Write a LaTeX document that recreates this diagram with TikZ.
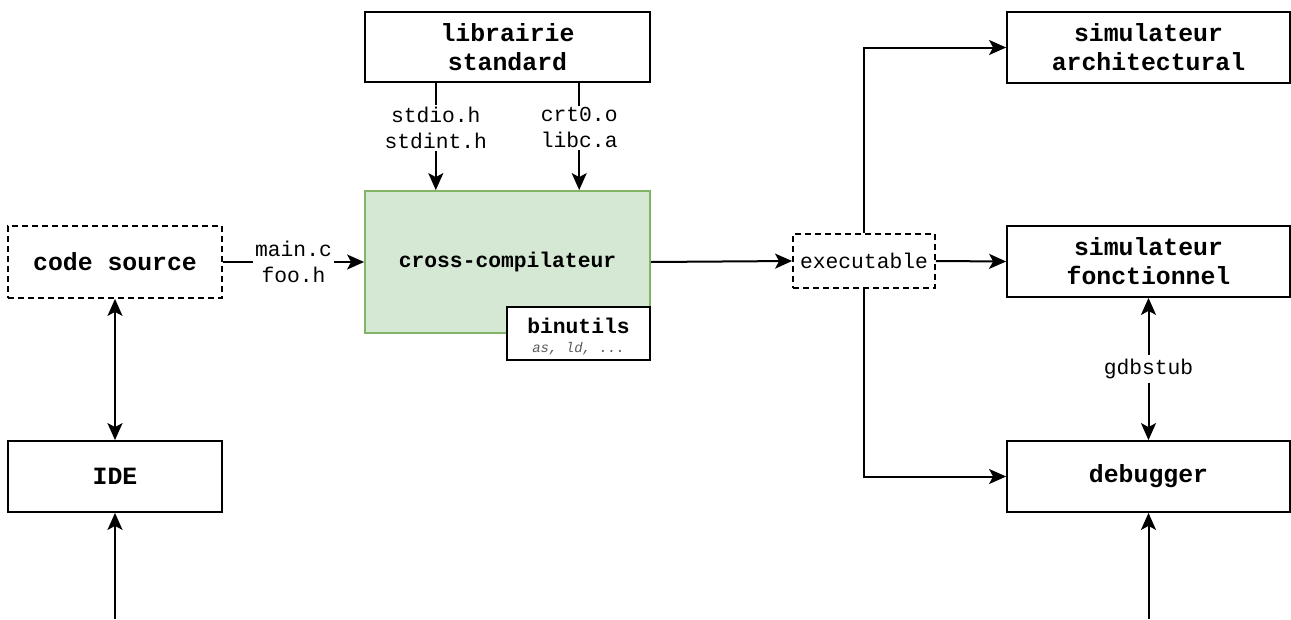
\documentclass[tikz,border=0pt]{standalone}
\usepackage{fontspec}
\setmainfont{Liberation Mono}
\setmonofont{Liberation Mono}
\usetikzlibrary{arrows.meta,calc}
\begin{document}
\begin{tikzpicture}[x=1pt,y=-1pt,
  box/.style={draw=black,line width=1.8pt,fill=white,inner sep=0pt,align=center,font=\fontsize{24.8}{29}\selectfont\bfseries},
  dbox/.style={box,dash pattern=on 6pt off 4pt},
  lbl/.style={fill=white,inner sep=2pt,align=center,font=\fontsize{21.3}{26}\selectfont},
  tip/.tip={Stealth[length=17pt,width=15pt,inset=4pt]},
  arr/.style={line width=2pt,-tip},
  darr/.style={line width=2pt,tip-tip}]
\useasboundingbox (0,0) rectangle (1291,619);
% nodes
\node[box,minimum width=285pt,minimum height=70pt] (lib) at (507.5,47) {librairie\\standard};
\node[box,draw={rgb,255:red,130;green,179;blue,102},fill={rgb,255:red,213;green,232;blue,212},minimum width=285pt,minimum height=142pt,font=\fontsize{21.3}{26}\selectfont\bfseries] (cc) at (507.5,262) {cross-compilateur};
\node[box,minimum width=143pt,minimum height=53pt] (bin) at (578.5,333.5) {};
\node[inner sep=0pt,align=center,font=\fontsize{21.3}{20}\selectfont\bfseries] (bint) at ($(bin.center)+(0,3)$) {binutils\\[-1pt]{\fontsize{14}{14}\selectfont\mdseries\itshape\color[gray]{0.35}as, ld, ...}};
\node[dbox,minimum width=214pt,minimum height=72pt] (src) at (115,262) {code source};
\node[box,minimum width=214pt,minimum height=71pt] (ide) at (115,476.5) {IDE};
\node[dbox,minimum width=142pt,minimum height=54pt,font=\fontsize{21.3}{26}\selectfont] (exe) at (864,261) {executable};
\node[box,minimum width=283pt,minimum height=71pt] (sa) at (1148.5,47.5) {simulateur\\architectural};
\node[box,minimum width=283pt,minimum height=71pt] (sf) at (1148.5,261.5) {simulateur\\fonctionnel};
\node[box,minimum width=283pt,minimum height=71pt] (dbg) at (1148.5,476.5) {debugger};
\coordinate (ideb) at (115,619);
\coordinate (dbgb) at (1148.5,619);
% connectors
\draw[arr] ($(lib.south west)!0.25!(lib.south east)$) -- node[lbl,pos=0.42] {stdio.h\\stdint.h} ($(cc.north west)!0.25!(cc.north east)$);
\draw[arr] ($(lib.south west)!0.75!(lib.south east)$) -- node[lbl,pos=0.42] {crt0.o\\libc.a} ($(cc.north west)!0.75!(cc.north east)$);
\draw[arr] (src.east) -- node[lbl] {main.c\\foo.h} (cc.west);
\draw[arr] (cc.east) -- (exe.west);
\draw[arr] (exe.north) |- (sa.west);
\draw[arr] (exe.east) -- (sf.west);
\draw[arr] (exe.south) |- (dbg.west);
\draw[darr] (src.south) -- (ide.north);
\draw[arr] (ideb) -- (ide.south);
\draw[arr] (dbgb) -- (dbg.south);
\draw[darr] (sf.south) -- node[lbl,inner sep=4pt] {gdbstub} (dbg.north);
\end{tikzpicture}
\end{document}
